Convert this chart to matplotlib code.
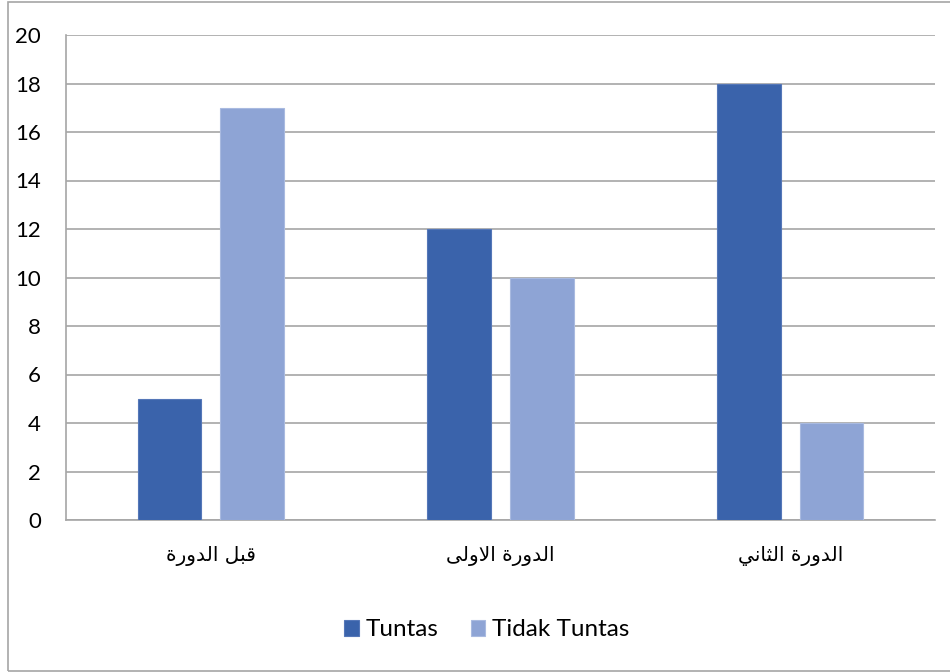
import matplotlib
matplotlib.use("Agg")
import matplotlib.pyplot as plt
from matplotlib.patches import Rectangle
import numpy as np

# category labels (Arabic, given in presentation forms / visual order since
# matplotlib does no bidi shaping): قبل الدورة, الدورة الاولى, الدورة الثاني
categories = [
    "\uFE93\uFEAD\uFEED\uFEAA\uFEDF\uFE8D \uFEDE\uFE92\uFED7",
    "\uFEF0\uFEDF\uFEED\uFEFB\uFE8D \uFE93\uFEAD\uFEED\uFEAA\uFEDF\uFE8D",
    "\uFEF2\uFEE7\uFE8E\uFE9C\uFEDF\uFE8D \uFE93\uFEAD\uFEED\uFEAA\uFEDF\uFE8D",
]
tuntas = [5, 12, 18]
tidak_tuntas = [17, 10, 4]
series_names = ["Tuntas", "Tidak Tuntas"]
yticks = list(range(0, 21, 2))

c1 = "#3A63AB"
c2 = "#8EA4D5"
grid_c = "#A6A6A6"

fig = plt.figure(figsize=(9.5, 6.72), dpi=100)
ax = fig.add_axes([66/950, 1-520/672, (935-66)/950, (520-35)/672])

x = np.arange(len(categories))
w = 0.22
off = 0.143
ax.bar(x - off, tuntas, w, color=c1, edgecolor="#5577B8", linewidth=0.8,
       label=series_names[0], zorder=3)
ax.bar(x + off, tidak_tuntas, w, color=c2, edgecolor="#A9BAE0", linewidth=0.8,
       label=series_names[1], zorder=3)

ax.set_xlim(-0.5, 2.5)
ax.set_ylim(0, 20)
ax.set_yticks(yticks)
ax.set_yticklabels([str(v) for v in yticks], fontsize=16, family="Lato")
ax.set_xticks(x)
ax.set_xticklabels(categories, fontsize=14.5, family="DejaVu Sans")
ax.tick_params(axis="y", length=0, pad=18)
ax.tick_params(axis="x", length=0, pad=19)

ax.yaxis.grid(True, color=grid_c, linewidth=1.2, zorder=0)
ax.set_axisbelow(True)
for s in ["top", "right"]:
    ax.spines[s].set_visible(False)
ax.spines["left"].set_color(grid_c)
ax.spines["left"].set_linewidth(1.2)
ax.spines["bottom"].set_color(grid_c)
ax.spines["bottom"].set_linewidth(1.2)

# outer chart frame
fig.patches.append(Rectangle((8/950, 1/672), 1.02, 669/672, transform=fig.transFigure,
                             fill=False, edgecolor=grid_c, linewidth=1.2))

leg = fig.legend(loc="center", bbox_to_anchor=(487/950, 1-630/672), ncol=2,
                 frameon=False, prop={"family": "Lato", "size": 17.5},
                 handlelength=0.6, handleheight=0.6, handletextpad=0.3,
                 columnspacing=1.3)

fig.savefig("out.png", dpi=100)
